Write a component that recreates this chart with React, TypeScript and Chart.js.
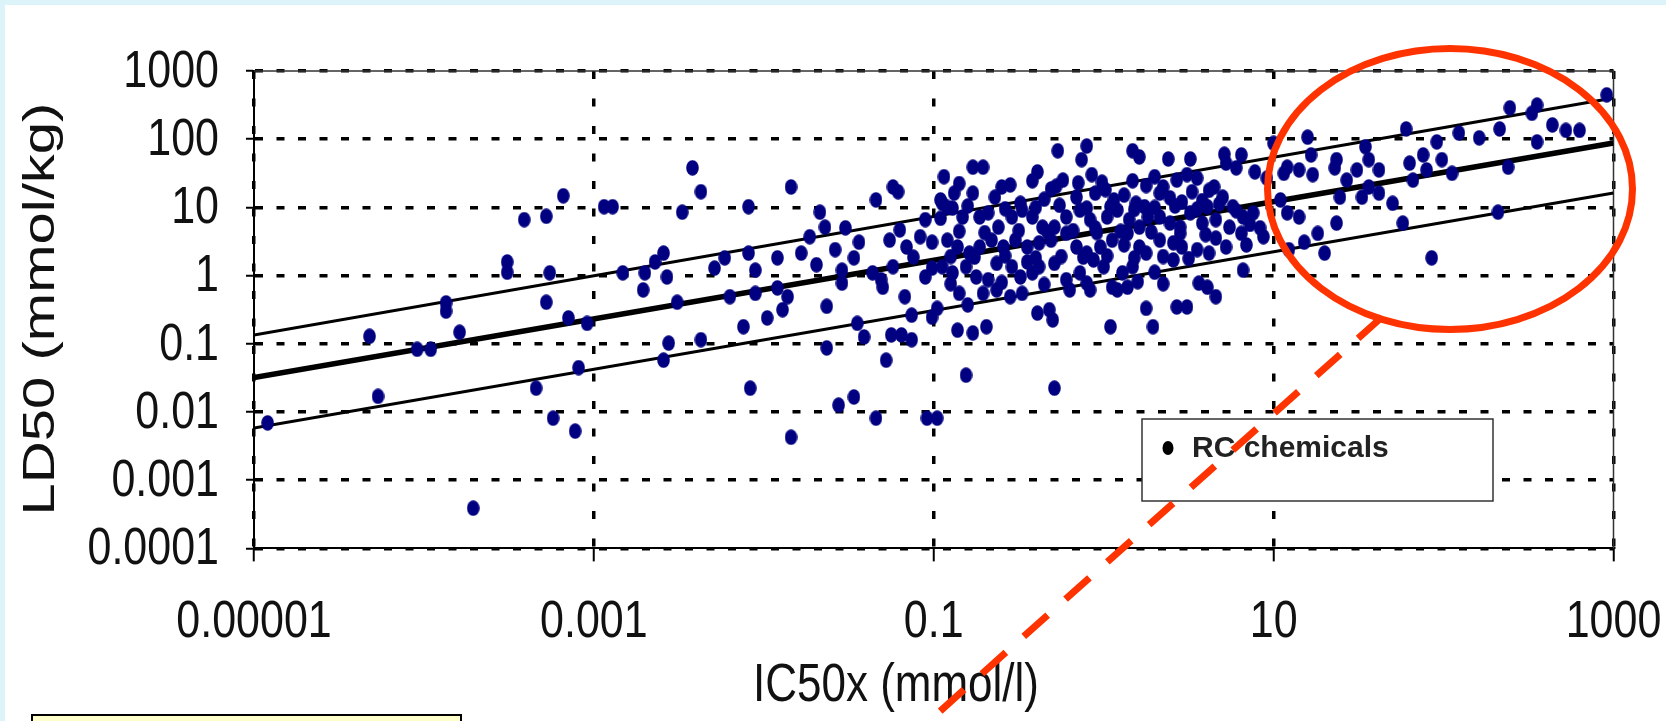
import { useEffect, useRef } from 'react';
import { Chart, registerables } from 'chart.js';

Chart.register(...registerables);

const W = 1666;
const H = 721;

// RC chemicals: decimal exponents (log10)
const rcLogIC50 = [
  // 1e-5 .. 1e-3
  -4.92, -4.32, -4.27, -4.04, -3.96, -3.87, -3.87, -3.79, -3.71, -3.51, -3.51, -3.41, -3.28, -3.18, -3.26, -3.28, -3.15, -3.04, -3.09, -3.34, -3.24, -3.11,
  // 1e-3 .. 0.1
  -2.94, -2.89, -2.83, -2.70, -2.71, -2.64, -2.59, -2.57, -2.51, -2.48, -2.42, -2.37, -2.56, -2.59, -2.37, -2.29, -2.23, -2.20, -2.12, -2.09,
  -2.09, -2.05, -2.05, -2.08, -1.98, -1.89, -1.92, -1.92, -1.86, -1.84, -1.84, -1.78, -1.73, -1.69, -1.67, -1.64, -1.63, -1.63, -1.58, -1.56,
  -1.47, -1.52, -1.54, -1.54, -1.47, -1.45, -1.41, -1.44, -1.34, -1.34, -1.36, -1.31, -1.30, -1.28, -1.24, -1.21, -1.26, -1.24, -1.20, -1.16,
  -1.12, -1.08, -1.25, -1.19, -1.13, -1.17, -1.13, -1.04, -0.98, -1.05, -1.05, -1.01, -1.01, -1.01, -0.98, -0.96, -0.94, -0.96, -0.92,
  // 0.1 .. 10
  -0.27, -0.10, -0.13, 0.17, 0.21, 0.38, 0.51, 0.71, 0.81,
  -0.77, -0.71, -0.39, -0.42, -0.28, -0.24, -0.07, -0.01, 0.17, 0.35, 0.43, 0.49, 0.55, 0.72, 0.78, 0.89, 0.96, 1.06,
  -0.88, -0.77, -0.64, -0.49, -0.31, -0.16, -0.05, 0.01, 0.06, 0.12, 0.19, 0.24, 0.33, 0.39, 0.46, 0.52, 0.61, 0.70, 0.76, 0.82, 0.88, 1.04,
  -0.95, -0.89, -0.83, -0.73, -0.68, -0.62, -0.54, -0.48, -0.42, -0.36, -0.29, -0.22, -0.14, -0.08, 0.02, 0.08, 0.15, 0.21, 0.26, 0.33, 0.39, 0.45, 0.51, 0.58, 0.66, 0.74, 0.81, 0.94,
  -0.86, -0.79, -0.73, -0.66, -0.59, -0.52, -0.45, -0.38, -0.31, -0.22, -0.16, -0.10, -0.02, 0.05, 0.14, 0.21, 0.25, 0.33, 0.41, 0.46, 0.55, 0.62, 0.72,
  -0.95, -0.89, -0.81, -0.75, -0.68, -0.63, -0.54, -0.49, -0.42, -0.38, -0.29, -0.22, -0.14, -0.06, 0.00, 0.05, 0.11, 0.17, 0.41, 0.56, 0.61, 0.66, 0.82,
  -0.85, -0.80, -0.71, -0.63, -0.55, -0.48, -0.39, -0.32, -0.20, -0.08, 0.08, 0.14, 0.25, 0.43, 0.49,
  -0.86, -0.77, -0.69, -0.30, 0.04, 0.29, -0.81, -0.29, 1.00,
  // overlapping points inside the solid central cluster
  -0.92, -0.80, -0.58, -0.40, -0.26, -0.10, 0.04, 0.18, 0.30, 0.42, 0.55,
  -0.85, -0.70, -0.50, -0.33, -0.18, -0.04, 0.10, 0.28, 0.45, 0.60,
  -0.90, -0.76, -0.58, -0.40, -0.25, -0.12, 0.02, 0.18, 0.35, 0.50,
  -0.90, -0.60, -0.35, -0.10, 0.20, 0.35,
  -0.85, -0.55, -0.15, 0.25, 0.65,
  0.62, 0.68, 0.78, 0.86, 0.92, 0.66, 0.84, 0.58, -0.60, -0.35, 0.30, -0.05, 0.12, -0.45, 0.30,
  // 10 .. 1000
  2.96, 2.39, 2.55, 2.52, 1.78, 2.09, 2.21, 2.33, 2.64, 2.72, 2.80, 1.96, 2.55, 1.20, 1.54, 1.22, 1.37, 1.08, 1.15, 1.23,
  1.36, 1.43, 1.49, 1.56, 1.62, 1.56, 1.52, 1.62, 1.70, 1.39, 1.80, 1.88, 1.90, 1.82, 1.99, 2.05, 2.38, 1.08, 1.15, 1.26,
  1.37, 1.76, 2.32, 1.18, 1.09, 1.30, 1.93,
];

const rcLogLD50 = [
  -2.16, -0.89, -1.77, -1.08, -1.08, -0.40, -0.52, -0.83, -3.41, 0.20, 0.05, 0.82, 0.87, 1.17, 0.04, -0.39, -0.62, -0.70, -1.35, -1.65, -2.09, -2.28,
  1.01, 1.01, 0.04, 0.04, -0.21, 0.20, 0.33, -0.02, -0.39, 0.93, 1.58, 1.23, -0.99, -1.24, -0.94, 0.11, 0.26, -0.31, -0.75, 1.01,
  0.33, 0.08, -0.26, -1.65, -0.62, -0.50, 0.26, -0.18, -0.31, 1.30, -2.37, 0.33, 0.57, 0.16, 0.93, 0.71, -0.45, -1.06, 0.38, -1.90,
  -1.78, 0.70, 0.08, -0.11, 0.26, -0.70, -0.90, 0.49, 1.11, -2.09, 0.04, -0.06, -0.17, -1.24, 1.30, 1.23, 0.52, 0.13, 0.67, 0.42,
  0.27, 0.57, -0.87, -0.87, -0.94, -0.31, -0.58, -2.09, -2.09, 0.82, -0.02, 0.49, 0.11, -0.61, -0.48, 1.11, 1.45, 0.84, 0.52,
  1.83, 1.90, 1.70, 1.83, 1.74, 1.71, 1.71, 1.78, 1.77,
  1.59, 1.59, 1.52, 1.39, 1.31, 1.40, 1.48, 1.37, 1.39, 1.30, 1.40, 1.48, 1.43, 1.65, 1.58, 1.52, 1.43, 1.50,
  1.21, 1.21, 1.15, 1.06, 1.27, 1.15, 1.21, 1.26, 1.11, 1.18, 1.06, 1.01, 1.21, 1.14, 1.08, 1.23, 1.01, 1.15, 1.01, 0.86, 0.92, 1.11,
  1.06, 0.99, 0.86, 0.86, 0.92, 0.71, 0.86, 0.96, 0.86, 0.71, 0.71, 0.86, 0.96, 0.82, 0.86, 0.96, 0.82, 0.71, 0.86, 0.86, 0.77, 0.71, 0.92, 0.77, 0.82, 0.71, 0.62, 0.57,
  0.42, 0.33, 0.42, 0.52, 0.42, 0.52, 0.42, 0.48, 0.52, 0.62, 0.42, 0.33, 0.42, 0.52, 0.62, 0.42, 0.33, 0.52, 0.48, 0.42, 0.38, 0.33, 0.42,
  0.13, 0.04, 0.13, -0.02, -0.06, 0.18, 0.13, -0.02, 0.04, 0.13, 0.18, -0.06, 0.04, 0.23, 0.13, -0.17, 0.04, 0.13, 0.23, -0.11, -0.17, -0.31, 0.08,
  -0.26, -0.43, -0.26, -0.21, -0.31, -0.26, -0.55, -0.50, -0.21, -0.21, -0.21, -0.17, -0.48, -0.46, -0.46,
  -0.80, -0.84, -0.75, -0.65, -0.75, -0.75, -1.46, -1.65, 1.94,
  1.00, 1.02, 0.98, 1.00, 1.03, 0.99, 1.01, 0.97, 1.00, 1.02, 0.98,
  0.65, 0.63, 0.66, 0.64, 0.66, 0.63, 0.65, 0.64, 0.62, 0.60,
  0.28, 0.27, 0.29, 0.26, 0.28, 0.27, 0.29, 0.26, 0.28, 0.25,
  -0.12, -0.10, -0.13, -0.11, -0.09, -0.12,
  1.35, 1.33, 1.36, 1.32, 1.30,
  1.25, 1.05, 0.95, 0.75, 0.70, 0.55, 0.45, 1.10, 1.30, 1.12, 1.45, 0.70, 0.45, 0.20, 0.05,
  2.65, 2.46, 2.50, 2.38, 2.15, 2.09, 2.02, 2.15, 2.21, 2.13, 2.13, 1.96, 1.96, 2.03, 1.89, 1.77, 1.70, 1.59, 1.55, 1.48,
  1.58, 1.40, 1.55, 1.70, 1.55, 1.30, 1.15, 1.21, 1.06, 1.15, 1.65, 1.77, 1.55, 1.40, 1.70, 1.50, 1.59, 0.92, 0.86, 0.62,
  0.77, 0.77, 0.93, 0.49, 0.38, 0.33, 0.26,
];

// regression line and its two bands (end points at the axis limits)
const bandIC50 = [0.00001, 1000];
const fitLD50 = [0.032, 88];
const upperLD50 = [0.135, 402];
const lowerLD50 = [0.0058, 16.3];

const xTickValues = [0.00001, 0.001, 0.1, 10, 1000];
const xTickLabels = ['0.00001', '0.001', '0.1', '10', '1000'];
const yTickValues = [0.0001, 0.001, 0.01, 0.1, 1, 10, 100, 1000];
const yTickLabels = ['0.0001', '0.001', '0.01', '0.1', '1', '10', '100', '1000'];

const seriesLabel = 'RC chemicals';
const xTitle = 'IC50x (mmol/l)';
const yTitle = 'LD50 (mmol/kg)';

const TEXT_FONT = "'Liberation Sans', Arial, sans-serif";
const STRETCH = 1.2; // the source figure is stretched vertically

export default function App() {
  const ref = useRef<HTMLCanvasElement | null>(null);

  useEffect(() => {
    document.body.style.margin = '0';
    const canvas = ref.current;
    if (!canvas) return;

    const marker = document.createElement('canvas');
    marker.width = 13;
    marker.height = 16;
    const m = marker.getContext('2d') as CanvasRenderingContext2D;
    m.fillStyle = '#000080';
    m.beginPath();
    m.ellipse(6.5, 8, 6.3, 7.8, 0, 0, Math.PI * 2);
    m.fill();

    const n = Math.min(rcLogIC50.length, rcLogLD50.length);
    const rc: { x: number; y: number }[] = [];
    for (let i = 0; i < n; i++) {
      rc.push({ x: Math.pow(10, rcLogIC50[i]), y: Math.pow(10, rcLogLD50[i]) });
    }
    const band = (ys: number[]) => bandIC50.map((x, i) => ({ x, y: ys[i] }));

    const decor = {
      id: 'decor',
      beforeDraw(chart: any) {
        const ctx = chart.ctx as CanvasRenderingContext2D;
        ctx.save();
        ctx.fillStyle = '#dcf3f9';
        ctx.fillRect(0, 0, W, H);
        ctx.fillStyle = '#ffffff';
        ctx.fillRect(5, 5, W - 5, H - 5);
        ctx.restore();
      },
      beforeDatasetsDraw(chart: any) {
        const ctx = chart.ctx as CanvasRenderingContext2D;
        const { left, right, top, bottom } = chart.chartArea;
        ctx.save();
        ctx.strokeStyle = '#333';
        ctx.lineWidth = 1.5;
        ctx.beginPath();
        ctx.moveTo(left, top);
        ctx.lineTo(right, top);
        ctx.lineTo(right, bottom);
        ctx.stroke();
        ctx.restore();
      },
      afterDraw(chart: any) {
        const ctx = chart.ctx as CanvasRenderingContext2D;
        const area = chart.chartArea;
        const xs = chart.scales.x;
        const ys = chart.scales.y;
        ctx.save();

        // tick labels, placed with the chart's own scales
        ctx.fillStyle = '#111';
        ctx.font = `43px ${TEXT_FONT}`;
        ctx.textBaseline = 'alphabetic';
        ctx.textAlign = 'center';
        xTickValues.forEach((v, i) => {
          ctx.save();
          ctx.translate(xs.getPixelForValue(v), area.bottom + 89);
          ctx.scale(1, STRETCH);
          ctx.fillText(xTickLabels[i], 0, 0);
          ctx.restore();
        });
        ctx.textAlign = 'right';
        yTickValues.forEach((v, i) => {
          ctx.save();
          ctx.translate(area.left - 35, ys.getPixelForValue(v) + 15.7);
          ctx.scale(1, STRETCH);
          ctx.fillText(yTickLabels[i], 0, 0);
          ctx.restore();
        });

        // yellow note box at the bottom left
        ctx.fillStyle = '#ffffcc';
        ctx.fillRect(32, 715, 429, 20);
        ctx.strokeStyle = '#000';
        ctx.lineWidth = 2;
        ctx.strokeRect(32, 715, 429, 20);

        // axis titles
        ctx.fillStyle = '#111';
        ctx.textAlign = 'center';
        ctx.textBaseline = 'alphabetic';
        ctx.save();
        ctx.translate(896, 701);
        ctx.scale(1, STRETCH);
        ctx.font = `44px ${TEXT_FONT}`;
        ctx.fillText(xTitle, 0, 0);
        ctx.restore();

        ctx.save();
        ctx.translate(53.5, 309);
        ctx.rotate(-Math.PI / 2);
        ctx.scale(1.29, 1);
        ctx.font = `45px ${TEXT_FONT}`;
        ctx.fillText(yTitle, 0, 0);
        ctx.restore();

        // legend
        ctx.fillStyle = '#fff';
        ctx.fillRect(1142, 419, 351, 82);
        ctx.strokeStyle = '#333';
        ctx.lineWidth = 1.5;
        ctx.strokeRect(1142, 419, 351, 82);
        ctx.fillStyle = '#000';
        ctx.beginPath();
        ctx.ellipse(1168, 448, 5.5, 7, 0, 0, Math.PI * 2);
        ctx.fill();
        ctx.fillStyle = '#222';
        ctx.textAlign = 'left';
        ctx.font = `bold 30px ${TEXT_FONT}`;
        ctx.fillText(seriesLabel, 1192, 457);

        // red highlight
        ctx.strokeStyle = '#ff3300';
        ctx.lineWidth = 7;
        ctx.beginPath();
        ctx.ellipse(1450, 189, 182.5, 140.5, 0, 0, Math.PI * 2);
        ctx.stroke();
        ctx.setLineDash([32, 24]);
        ctx.lineCap = 'butt';
        ctx.beginPath();
        ctx.moveTo(1382, 317);
        ctx.lineTo(929, 721);
        ctx.stroke();
        ctx.restore();
      },
    };

    const chart = new Chart(canvas, {
      type: 'scatter',
      data: {
        datasets: [
          {
            label: seriesLabel,
            data: rc,
            pointStyle: marker as any,
            pointRadius: 6,
            pointHoverRadius: 6,
            backgroundColor: '#000080',
            borderColor: '#000080',
            showLine: false,
          },
          {
            label: 'fit',
            data: band(fitLD50),
            showLine: true,
            borderColor: '#000',
            borderWidth: 5.5,
            pointRadius: 0,
          },
          {
            label: 'upper',
            data: band(upperLD50),
            showLine: true,
            borderColor: '#000',
            borderWidth: 3,
            pointRadius: 0,
          },
          {
            label: 'lower',
            data: band(lowerLD50),
            showLine: true,
            borderColor: '#000',
            borderWidth: 3,
            pointRadius: 0,
          },
        ],
      } as any,
      options: {
        responsive: false,
        animation: false,
        devicePixelRatio: 1,
        events: [],
        layout: { padding: { left: 0, top: 71, right: 52.5, bottom: 52.6 } },
        plugins: { legend: { display: false }, tooltip: { enabled: false } },
        scales: {
          x: {
            type: 'logarithmic',
            position: 'bottom',
            min: 0.00001,
            max: 1000,
            afterBuildTicks: (s: any) => {
              s.ticks = xTickValues.map((value) => ({ value }));
            },
            afterFit: (s: any) => {
              s.height = 120;
            },
            ticks: { display: false, autoSkip: false, maxRotation: 0 },
            grid: { color: '#000', lineWidth: 3.5, drawTicks: true, tickLength: 13, tickWidth: 2, tickColor: '#000' },
            border: { display: true, color: '#000', width: 2, dash: [8, 19.5] },
          },
          y: {
            type: 'logarithmic',
            position: 'left',
            min: 0.0001,
            max: 1000,
            afterBuildTicks: (s: any) => {
              s.ticks = yTickValues.map((value) => ({ value }));
            },
            afterFit: (s: any) => {
              s.width = 254;
            },
            ticks: { display: false, autoSkip: false },
            grid: { color: '#000', lineWidth: 3.5, drawTicks: true, tickLength: 8, tickWidth: 2, tickColor: '#000' },
            border: { display: true, color: '#000', width: 2, dash: [8, 13.5] },
          },
        },
      } as any,
      plugins: [decor],
    });

    return () => chart.destroy();
  }, []);

  return <canvas ref={ref} width={W} height={H} style={{ display: 'block', width: W, height: H }} />;
}
